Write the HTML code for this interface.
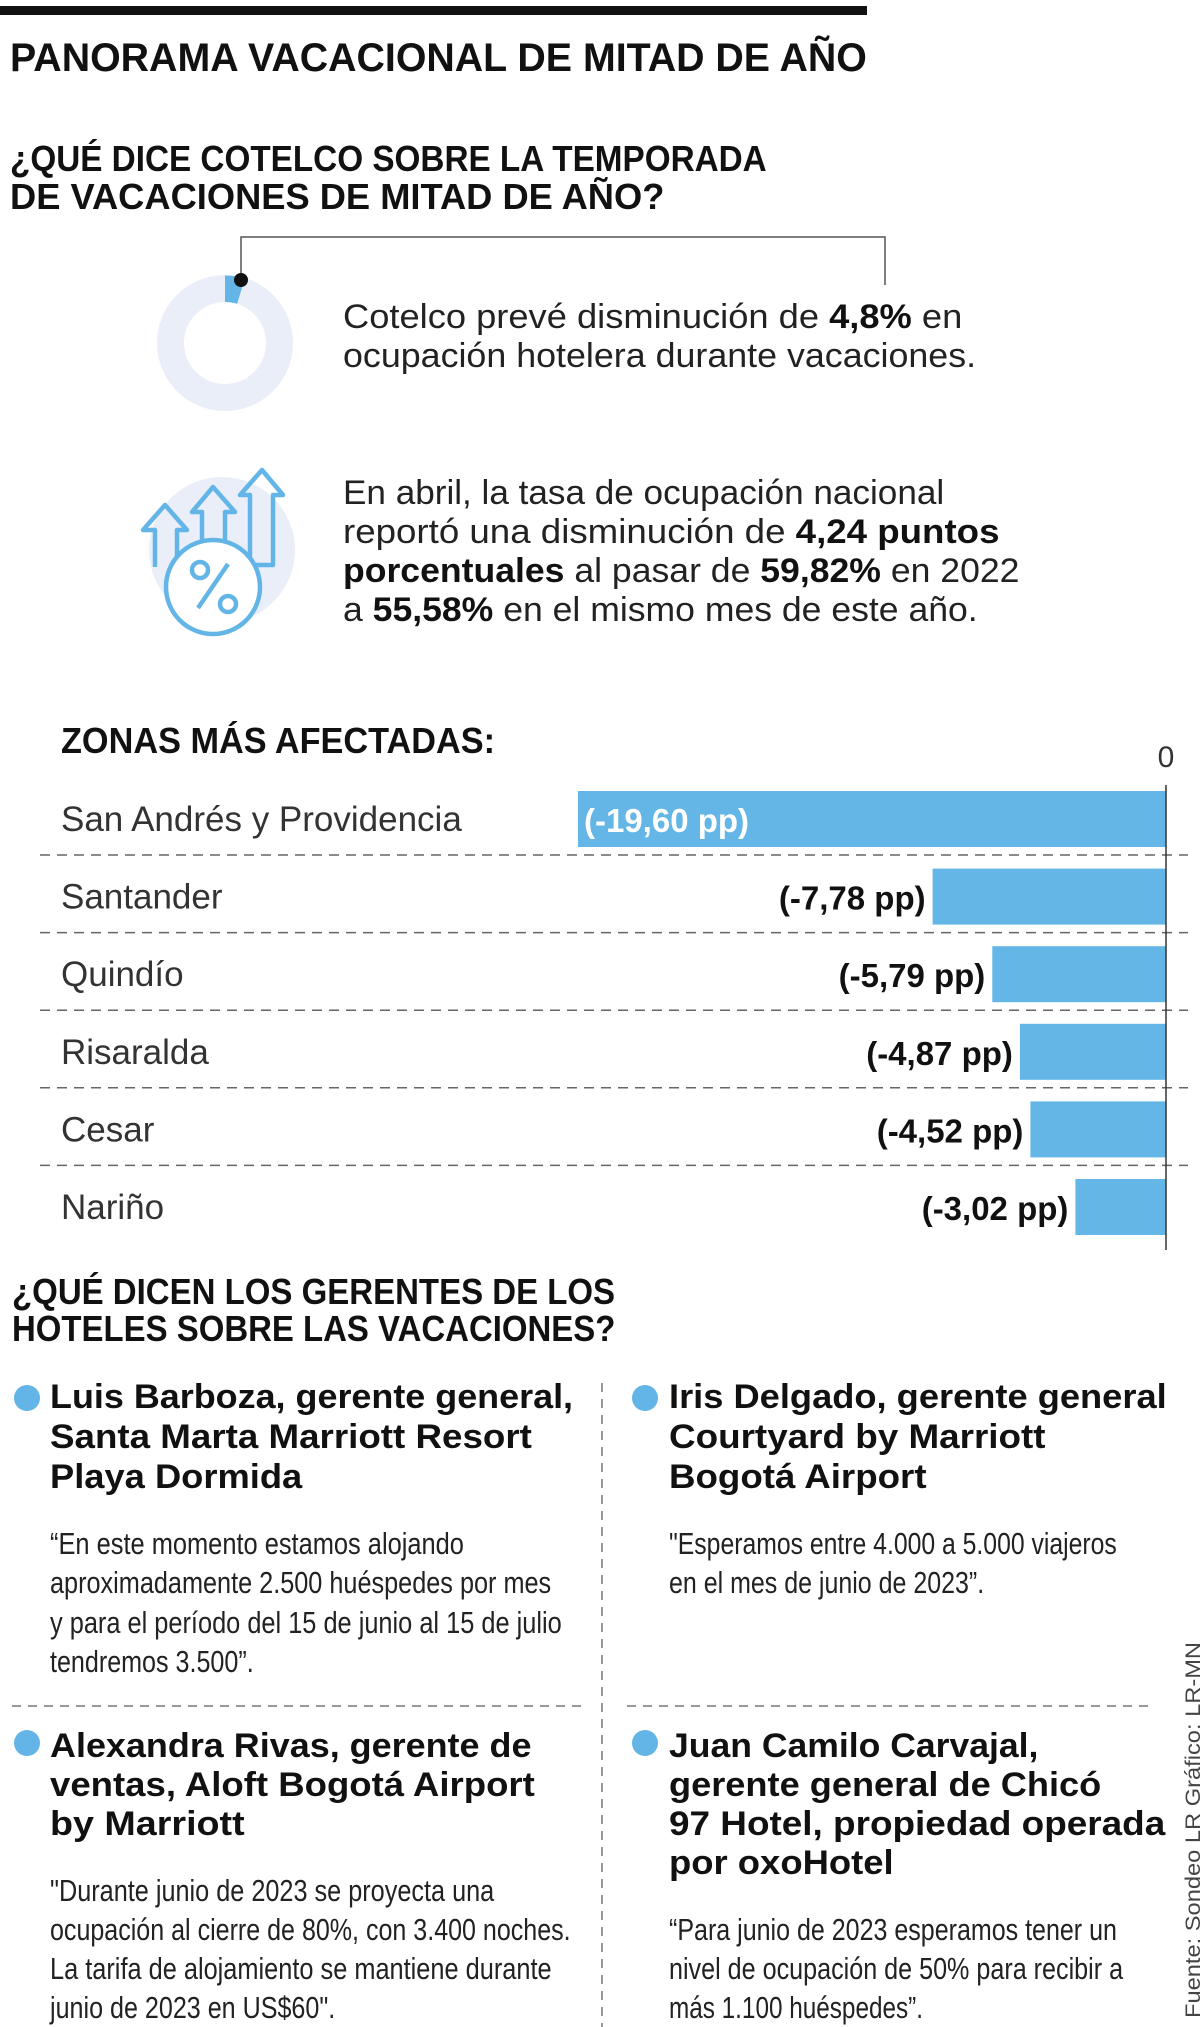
<!DOCTYPE html>
<html><head><meta charset="utf-8">
<style>
html,body{margin:0;padding:0;background:#fff;}
body{width:1200px;height:2027px;position:relative;overflow:hidden;font-family:"Liberation Sans",sans-serif;color:#1a1a1a;}
.ln{position:absolute;white-space:nowrap;transform-origin:0 0;}
.h{font-weight:bold;color:#111;}
.t{font-size:34px;line-height:34px;color:#222;}
.n{font-size:34px;line-height:34px;font-weight:bold;color:#111;}
.q{font-size:31px;line-height:31px;color:#222;}
.dot{position:absolute;width:26px;height:26px;border-radius:50%;background:#62b5e6;}
b{font-weight:bold;color:#111;}
</style></head><body>
<div style="position:absolute;left:0;top:6px;width:867px;height:9px;background:#111;"></div>
<div class="ln h" data-w="857" style="left:10px;top:38px;font-size:40px;line-height:40px;">PANORAMA VACACIONAL DE MITAD DE AÑO</div>
<div class="ln h" data-w="757" style="left:10px;top:141px;font-size:36px;line-height:36px;">¿QUÉ DICE COTELCO SOBRE LA TEMPORADA</div>
<div class="ln h" data-w="654" style="left:10px;top:179px;font-size:36px;line-height:36px;">DE VACACIONES DE MITAD DE AÑO?</div>

<svg width="1200" height="2027" style="position:absolute;left:0;top:0;" xmlns="http://www.w3.org/2000/svg">
 <g>
  <circle cx="225" cy="343" r="54.5" fill="none" stroke="#e9eef8" stroke-width="27"/>
  <path d="M225 275.5 A67.5 67.5 0 0 1 244.8 278.5 L237.1 303.8 A41 41 0 0 0 225 302 Z" fill="#62b5e6"/>
  <polyline points="241,280 241,237 885,237 885,285" fill="none" stroke="#555" stroke-width="1.5"/>
  <circle cx="241" cy="280" r="7" fill="#111"/>
 </g>
 <g fill="none" stroke="#62b5e6" stroke-width="4.5" stroke-linejoin="round">
  <circle cx="222" cy="550" r="73" fill="#e9eef8" stroke="none"/>
  <path d="M155 567 L155 530 L143 530 L165 505 L187 530 L177 530 L177 560"/>
  <path d="M202 545 L202 512 L192 512 L213 487 L235 512 L225 512 L225 545"/>
  <path d="M250 565 L250 495 L240 495 L262 470 L283 495 L273 495 L273 565 Z"/>
  <circle cx="213" cy="587" r="47" fill="#fff"/>
  <circle cx="200" cy="570" r="8"/>
  <circle cx="228" cy="604" r="8"/>
  <line x1="198" y1="608" x2="228" y2="564"/>
 </g>
 <g id="chart"></g>
 <g stroke="#777" stroke-width="1.5" stroke-dasharray="9,7">
  <line x1="602" y1="1383" x2="602" y2="2027"/>
  <line x1="12" y1="1706" x2="581" y2="1706"/>
  <line x1="627" y1="1706" x2="1154" y2="1706"/>
 </g>
 <text transform="translate(1200,2018) rotate(-90)" font-family="Liberation Sans" font-size="21" fill="#444" textLength="376" lengthAdjust="spacingAndGlyphs">Fuente: Sondeo LR   Gráfico: LR-MN</text>
</svg>

<div class="ln t" data-w="619" style="left:343px;top:300px;">Cotelco prevé disminución de <b>4,8%</b> en</div>
<div class="ln t" data-w="633" style="left:343px;top:339px;">ocupación hotelera durante vacaciones.</div>
<div class="ln t" data-w="601" style="left:343px;top:476px;">En abril, la tasa de ocupación nacional</div>
<div class="ln t" data-w="657" style="left:343px;top:515px;">reportó una disminución de <b>4,24 puntos</b></div>
<div class="ln t" data-w="676" style="left:343px;top:554px;"><b>porcentuales</b> al pasar de <b>59,82%</b> en 2022</div>
<div class="ln t" data-w="635" style="left:343px;top:593px;">a <b>55,58%</b> en el mismo mes de este año.</div>

<div class="ln h" data-w="434" style="left:61px;top:723px;font-size:36px;line-height:36px;">ZONAS MÁS AFECTADAS:</div>

<div class="ln h" data-w="603" style="left:12px;top:1274px;font-size:36px;line-height:36px;">¿QUÉ DICEN LOS GERENTES DE LOS</div>
<div class="ln h" data-w="603" style="left:12px;top:1311px;font-size:36px;line-height:36px;">HOTELES SOBRE LAS VACACIONES?</div>

<div class="dot" style="left:14px;top:1385px;"></div>
<div class="ln n" data-w="523" style="left:50px;top:1380px;">Luis Barboza, gerente general,</div>
<div class="ln n" data-w="482" style="left:50px;top:1420px;">Santa Marta Marriott Resort</div>
<div class="ln n" data-w="252" style="left:50px;top:1460px;">Playa Dormida</div>
<div class="ln q" data-w="414" style="left:50px;top:1528px;">“En este momento estamos alojando</div>
<div class="ln q" data-w="501" style="left:50px;top:1567px;">aproximadamente 2.500 huéspedes por mes</div>
<div class="ln q" data-w="512" style="left:50px;top:1607px;">y para el período del 15 de junio al 15 de julio</div>
<div class="ln q" data-w="204" style="left:50px;top:1646px;">tendremos 3.500”.</div>

<div class="dot" style="left:632px;top:1385px;"></div>
<div class="ln n" data-w="498" style="left:669px;top:1380px;">Iris Delgado, gerente general</div>
<div class="ln n" data-w="377" style="left:669px;top:1420px;">Courtyard by Marriott</div>
<div class="ln n" data-w="258" style="left:669px;top:1460px;">Bogotá Airport</div>
<div class="ln q" data-w="448" style="left:669px;top:1528px;">"Esperamos entre 4.000 a 5.000 viajeros</div>
<div class="ln q" data-w="315" style="left:669px;top:1567px;">en el mes de junio de 2023”.</div>

<div class="dot" style="left:14px;top:1730px;"></div>
<div class="ln n" data-w="481" style="left:50px;top:1729px;">Alexandra Rivas, gerente de</div>
<div class="ln n" data-w="485" style="left:50px;top:1768px;">ventas, Aloft Bogotá Airport</div>
<div class="ln n" data-w="195" style="left:50px;top:1807px;">by Marriott</div>
<div class="ln q" data-w="444" style="left:50px;top:1875px;">"Durante junio de 2023 se proyecta una</div>
<div class="ln q" data-w="521" style="left:50px;top:1914px;">ocupación al cierre de 80%, con 3.400 noches.</div>
<div class="ln q" data-w="502" style="left:50px;top:1953px;">La tarifa de alojamiento se mantiene durante</div>
<div class="ln q" data-w="285" style="left:50px;top:1992px;">junio de 2023 en US$60".</div>

<div class="dot" style="left:632px;top:1730px;"></div>
<div class="ln n" data-w="369" style="left:669px;top:1729px;">Juan Camilo Carvajal,</div>
<div class="ln n" data-w="432" style="left:669px;top:1768px;">gerente general de Chicó</div>
<div class="ln n" data-w="496" style="left:669px;top:1807px;">97 Hotel, propiedad operada</div>
<div class="ln n" data-w="225" style="left:669px;top:1846px;">por oxoHotel</div>
<div class="ln q" data-w="448" style="left:669px;top:1914px;">“Para junio de 2023 esperamos tener un</div>
<div class="ln q" data-w="454" style="left:669px;top:1953px;">nivel de ocupación de 50% para recibir a</div>
<div class="ln q" data-w="254" style="left:669px;top:1992px;">más 1.100 huéspedes”.</div>

<script>
const categories = ["San Andrés y Providencia","Santander","Quindío","Risaralda","Cesar","Nariño"];
const values = [-19.60,-7.78,-5.79,-4.87,-4.52,-3.02];
const valueLabels = ["(-19,60 pp)","(-7,78 pp)","(-5,79 pp)","(-4,87 pp)","(-4,52 pp)","(-3,02 pp)"];
const zeroTick = "0";

(function(){
  const NS="http://www.w3.org/2000/svg";
  const g=document.getElementById('chart');
  const zeroX=1166, pxPerUnit=30, top0=791, pitch=77.6, barH=56;
  const xScale=v=>zeroX+v*pxPerUnit;
  const yScale=i=>top0+i*pitch;
  function mk(tag,attrs){const e=document.createElementNS(NS,tag);for(const k in attrs)e.setAttribute(k,attrs[k]);return e;}
  categories.forEach((c,i)=>{
    const y=yScale(i);
    const x=xScale(values[i]);
    const bar=mk('rect',{x:x,y:y,width:zeroX-x,height:barH,fill:'#64b6e7'});
    
    
    g.appendChild(bar);
    const lab=mk('text',{x:61,y:y+40,'font-family':'Liberation Sans','font-size':'35',fill:'#333'});
    lab.textContent=c;
    
    
    g.appendChild(lab);
    const inside=(zeroX-x)>250;
    const vl=mk('text',{x:inside?x+6:x-7,y:y+41,'font-family':'Liberation Sans','font-size':'33','font-weight':'bold',fill:inside?'#fff':'#111','text-anchor':inside?'start':'end'});
    vl.textContent=valueLabels[i];
    
    
    g.appendChild(vl);
    if(i<categories.length-1){
      const dl=mk('line',{x1:40,x2:1188,y1:y+barH+8,y2:y+barH+8,stroke:'#666','stroke-width':1.5,'stroke-dasharray':'10,7'});
      
      
      g.appendChild(dl);
    }
  });
  const ax=mk('line',{x1:zeroX,x2:zeroX,y1:785,y2:1250,stroke:'#333','stroke-width':1.5});
  
  
  g.appendChild(ax);
  const zt=mk('text',{x:zeroX,y:767,'font-family':'Liberation Sans','font-size':'30',fill:'#333','text-anchor':'middle'});
  zt.textContent=zeroTick;
  
  
  g.appendChild(zt);
})();

document.querySelectorAll('.ln[data-w]').forEach(el=>{
  const w=parseFloat(el.getAttribute('data-w'));
  const nat=el.scrollWidth;
  if(nat>0) el.style.transform='scaleX('+(w/nat)+')';
});
</script>
</body></html>
